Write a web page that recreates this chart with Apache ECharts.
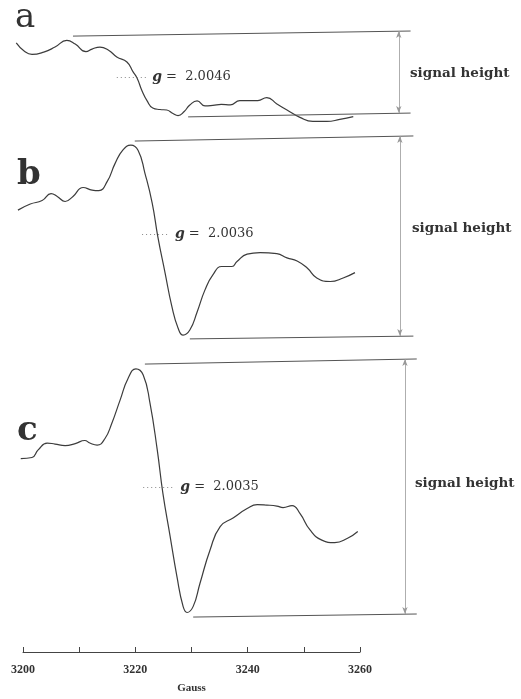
<!DOCTYPE html>
<html><head><meta charset="utf-8">
<script src="https://cdn.jsdelivr.net/npm/echarts@6/dist/echarts.min.js"></script>
<style>html,body{margin:0;padding:0;background:#fff}#c{width:521px;height:699px}</style>
</head><body><div id="c"></div>
<script>
// Magnetic field (Gauss) and relative EPR signal (same arbitrary units for all three spectra)
const fieldA = [3198.8,3200.2,3201.6,3203.7,3205.7,3207.8,3209.3,3211.2,3212.3,3213.7,3215.3,3216.7,3218.5,3219.6,3220.3,3221.2,3222.1,3223.1,3224.4,3225.6,3226.7,3227.6,3228.7,3229.7,3231.0,3232.4,3233.8,3235.3,3236.9,3238.6,3240.4,3241.8,3243.4,3245.2,3247.0,3249.3,3251.6,3254.1,3256.4,3258.8];
const signalA = [13.4,10.2,8.9,9.8,11.8,14.4,13.0,10.0,11.0,11.8,10.4,7.9,5.9,2.0,-0.4,-5.5,-9.4,-12.2,-12.8,-13.0,-14.4,-15.2,-13.6,-11.0,-9.4,-11.4,-11.2,-10.8,-11.0,-9.3,-9.3,-9.3,-8.1,-10.6,-13.0,-15.9,-17.5,-17.5,-16.7,-15.6];

const fieldB = [3199.1,3201.3,3203.4,3205.0,3206.1,3207.5,3208.9,3210.7,3212.3,3213.5,3215.0,3216.4,3217.8,3219.2,3220.5,3221.7,3223.0,3224.0,3225.3,3226.5,3227.6,3228.5,3229.7,3231.0,3232.4,3233.8,3235.4,3237.2,3238.1,3239.9,3242.2,3245.2,3247.0,3248.8,3250.6,3252.3,3254.7,3257.0,3259.1];
const signalB = [9.4,11.8,13.2,15.9,14.8,12.8,14.8,18.3,17.3,17.1,20.7,27.8,33.1,35.0,32.9,24.0,12.2,-1.0,-15.4,-28.5,-37.0,-39.8,-37.8,-30.7,-22.0,-16.1,-12.8,-12.8,-10.8,-7.9,-7.3,-7.7,-9.4,-10.6,-13.4,-17.3,-18.7,-17.3,-15.2];

const fieldC = [3199.6,3201.6,3202.7,3204.3,3205.7,3207.5,3209.3,3211.0,3211.9,3213.2,3214.6,3215.8,3217.3,3218.7,3220.1,3221.4,3222.6,3223.9,3224.9,3226.2,3227.4,3228.5,3229.2,3230.3,3231.5,3233.3,3235.1,3237.4,3239.9,3241.7,3243.4,3245.2,3246.3,3247.9,3249.3,3251.1,3253.2,3255.5,3257.7,3259.6];
const signalC = [11.2,11.6,14.6,17.3,16.9,16.3,17.1,18.3,17.3,16.5,19.1,25.0,34.3,42.7,46.5,44.1,33.1,14.6,-2.4,-19.5,-35.2,-47.0,-49.4,-47.0,-38.0,-24.8,-15.6,-12.2,-8.5,-6.9,-7.1,-7.5,-8.1,-7.3,-10.4,-16.9,-20.9,-21.9,-20.3,-17.5];

const panelLetters = ['a', 'b', 'c'];
const gValues = ['2.0046', '2.0036', '2.0035'];
const heightLabel = 'signal height';

// Signal-height reference lines (field, signal)
const topLineStart = [3208.9, 3219.9, 3221.7];
const topLineLeft = [16.1, 36.6, 48.4];
const topLineRight = [18.1, 38.6, 50.4];
const bottomLineStart = [3229.4, 3229.7, 3230.3];
const bottomLineLeft = [-15.7, -41.3, -51.2];
const bottomLineRight = [-14.2, -40.2, -50.0];
const lineEnd = [3269.0, 3269.5, 3270.1];
const arrowField = [3266.9, 3267.1, 3268.0];
const gMarkFrom = [3216.7, 3221.2, 3221.4];
const gMarkTo = [3222.1, 3225.8, 3227.1];

const axisMin = 3200, axisMax = 3260, axisStep = 10, labelStep = 20;
const axisName = 'Gauss';

// ---- layout ----
const fields = [fieldA, fieldB, fieldC];
const signals = [signalA, signalB, signalC];
const pxPerG = 5.617, axisLeft = 23;
const panelRange = [20, 45, 55];
const panelCenter = [77, 234, 487];
const pxPerUnit = 2.54;
const fMin = 3196, fMax = 3276;

const grids = [], xAxes = [], yAxes = [], series = [];
for (let i = 0; i < 3; i++) {
  const h = panelRange[i] * 2 * pxPerUnit;
  grids.push({left: axisLeft - (axisMin - fMin) * pxPerG, width: (fMax - fMin) * pxPerG,
              top: panelCenter[i] - h / 2, height: h});
  xAxes.push({type: 'value', gridIndex: i, min: fMin, max: fMax, show: false});
  yAxes.push({type: 'value', gridIndex: i, min: -panelRange[i], max: panelRange[i], show: false});
  const refStyle = {color: '#555', width: 1, type: 'solid'};
  series.push({
    type: 'line', xAxisIndex: i, yAxisIndex: i, clip: false,
    data: fields[i].map((f, k) => [f, signals[i][k]]),
    smooth: 0.5, showSymbol: false, symbol: 'none',
    lineStyle: {color: '#3c3c3c', width: 1.2},
    emphasis: {disabled: true}, animation: false,
    markLine: {
      silent: true, animation: false, symbol: ['none', 'none'],
      label: {show: false},
      data: [
        [{coord: [topLineStart[i], topLineLeft[i]], lineStyle: refStyle}, {coord: [lineEnd[i], topLineRight[i]]}],
        [{coord: [bottomLineStart[i], bottomLineLeft[i]], lineStyle: refStyle}, {coord: [lineEnd[i], bottomLineRight[i]]}],
        [{coord: [arrowField[i], topLineRight[i]], symbol: 'arrow', symbolSize: [4, 7],
          lineStyle: {color: '#999', width: 0.8, type: 'solid'}},
         {coord: [arrowField[i], bottomLineRight[i]], symbol: 'arrow', symbolSize: [4, 7]}],
        [{coord: [gMarkFrom[i], 0], lineStyle: {color: '#888', width: 1, type: [1, 3]},
          label: {show: true, position: 'end', distance: i === 1 ? 7 : 5,
            formatter: '{i|g} =  ' + gValues[i],
            fontFamily: 'DejaVu Serif', fontSize: 13, color: '#333',
            rich: {i: {fontFamily: 'DejaVu Serif', fontStyle: 'italic', fontWeight: 'bold', fontSize: 14, color: '#333'}}}},
         {coord: [gMarkTo[i], 0]}]
      ]
    }
  });
}
// bottom field axis
grids.push({left: axisLeft, width: (axisMax - axisMin) * pxPerG, top: 600, height: 52});
xAxes.push({type: 'value', gridIndex: 3, min: axisMin, max: axisMax, interval: axisStep,
  axisLine: {lineStyle: {color: '#444', width: 1}},
  axisTick: {inside: true, length: 5, lineStyle: {color: '#444'}},
  splitLine: {show: false},
  axisLabel: {margin: 12, color: '#333', fontFamily: 'Liberation Serif', fontWeight: 'bold', fontSize: 12,
    formatter: v => (v % labelStep === 0 ? String(v) : '')},
  name: axisName, nameLocation: 'middle', nameGap: 31,
  nameTextStyle: {color: '#333', fontFamily: 'Liberation Serif', fontWeight: 'bold', fontSize: 11}});
yAxes.push({type: 'value', gridIndex: 3, show: false});

const letterPos = [[15, 21, 'normal'], [17, 178, 'bold'], [17, 434, 'bold']];
const heightPos = [[410, 73], [412, 228], [415, 483]];
const graphic = [];
for (let i = 0; i < 3; i++) {
  graphic.push({type: 'text', left: letterPos[i][0], top: letterPos[i][1] - 20, silent: true,
    style: {text: panelLetters[i], font: letterPos[i][2] + ' 34px "DejaVu Serif"', fill: '#333'}});
  graphic.push({type: 'text', x: heightPos[i][0], y: heightPos[i][1], silent: true,
    style: {text: heightLabel, font: 'bold 13.5px "DejaVu Serif"', fill: '#333', textVerticalAlign: 'middle'}});
}

const chart = echarts.init(document.getElementById('c'), null, {renderer: 'canvas'});
chart.setOption({
  animation: false, backgroundColor: '#fff',
  grid: grids, xAxis: xAxes, yAxis: yAxes, series: series, graphic: graphic
});
</script></body></html>
